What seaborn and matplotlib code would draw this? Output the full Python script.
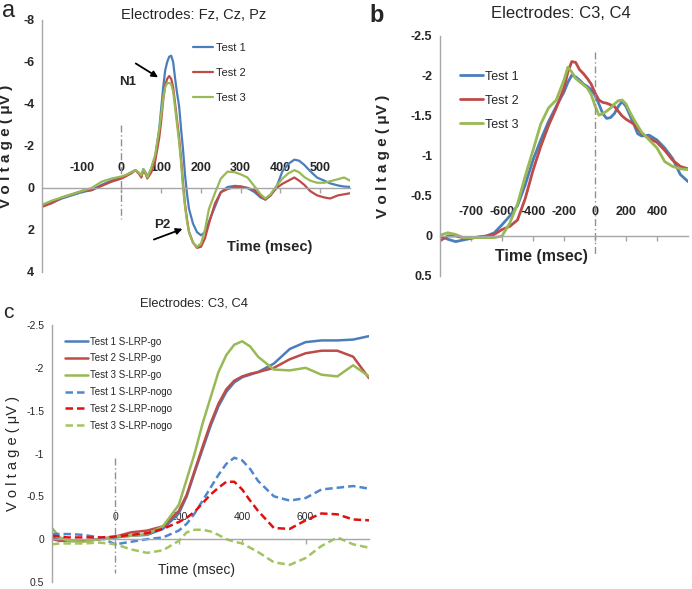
import numpy as np
import pandas as pd
import matplotlib
matplotlib.use('Agg')
import matplotlib.pyplot as plt
import seaborn as sns

sns.set_style('white')
plt.rcParams['font.family'] = ['Liberation Sans', 'DejaVu Sans']
plt.rcParams['axes.unicode_minus'] = False

# ---------------- data ----------------
# panel a: Fz, Cz, Pz (time in ms, voltage in uV)
t_a = [-200, -175, -150, -125, -100, -75, -50, -25,
       0, 15, 25, 35, 45, 50, 55, 60, 65, 75,
       85, 95, 100, 105, 110, 115, 120, 125, 130, 135,
       140, 145, 150, 155, 160, 165, 170, 180, 190, 200,
       210, 220, 235, 250, 267, 285, 300, 317, 335, 350,
       362, 375, 390, 405, 420, 435, 447, 460, 475, 492,
       510, 525, 545, 560, 575]
a_test1 = [0.85, 0.7, 0.5, 0.35, 0.2, 0.1, -0.15, -0.35,
           -0.5, -0.65, -0.75, -0.85, -0.7, -0.55, -0.9, -0.75, -0.55, -0.9,
           -1.5, -2.8, -3.8, -4.8, -5.6, -6.0, -6.25, -6.3, -6.0, -5.2,
           -4.5, -3.9, -2.8, -1.8, -0.6, 0.3, 1.0, 1.7, 2.1, 2.25,
           2.1, 1.6, 0.9, 0.2, -0.05, -0.1, -0.08, 0.0, 0.2, 0.45,
           0.55, 0.35, -0.05, -0.8, -1.15, -1.35, -1.3, -1.1, -0.8, -0.5,
           -0.35, -0.22, -0.12, -0.07, -0.05]
a_test2 = [0.9, 0.72, 0.45, 0.3, 0.15, 0.1, -0.1, -0.3,
           -0.45, -0.6, -0.7, -0.85, -0.65, -0.5, -0.85, -0.7, -0.45, -0.75,
           -1.3, -2.4, -3.2, -4.2, -4.9, -5.2, -5.33, -5.2, -4.8, -4.0,
           -3.2, -2.4, -1.4, -0.2, 0.8, 1.5, 2.1, 2.6, 2.85, 2.8,
           2.4, 1.7, 0.75, 0.2, 0.05, -0.05, -0.05, 0.0, 0.1, 0.4,
           0.55, 0.35, 0.0, -0.2, -0.35, -0.5, -0.35, -0.15, 0.15, 0.35,
           0.45, 0.5, 0.35, 0.3, 0.25]
a_test3 = [0.8, 0.6, 0.45, 0.3, 0.15, 0.0, -0.3, -0.45,
           -0.55, -0.65, -0.75, -0.85, -0.7, -0.6, -0.9, -0.75, -0.5, -0.95,
           -1.6, -2.8, -3.5, -4.3, -4.8, -5.0, -5.0, -4.95, -4.6, -3.8,
           -3.0, -2.2, -1.2, 0.0, 0.9, 1.6, 2.1, 2.6, 2.8, 2.65,
           2.0, 1.0, 0.25, -0.45, -0.78, -0.75, -0.65, -0.5, -0.07, 0.3,
           0.5, 0.3, -0.1, -0.45, -0.7, -0.85, -0.75, -0.52, -0.35, -0.25,
           -0.25, -0.32, -0.42, -0.5, -0.35]

# panel b: C3, C4 (response locked)
t_b = [-1000, -950, -900, -850, -800, -750, -700, -650, -600, -550,
       -500, -450, -400, -350, -300, -250, -200, -175, -150, -125,
       -100, -75, -50, -25, 0, 25, 50, 75, 100, 125,
       150, 175, 200, 225, 250, 275, 300, 350, 400, 450,
       500, 550, 600]
b_test1 = [0.0, 0.04, 0.07, 0.05, 0.03, 0.01, 0.0, -0.04, -0.14, -0.25,
           -0.38, -0.64, -0.95, -1.2, -1.43, -1.62, -1.8, -1.92, -2.01, -1.99,
           -1.95, -1.9, -1.87, -1.83, -1.76, -1.65, -1.53, -1.47, -1.48, -1.53,
           -1.62, -1.68, -1.62, -1.51, -1.4, -1.28, -1.25, -1.26, -1.2, -1.1,
           -0.97, -0.77, -0.68]
b_test2 = [0.06, 0.0, 0.0, 0.02, 0.02, 0.02, 0.0, -0.02, -0.08, -0.12,
           -0.2, -0.47, -0.82, -1.12, -1.38, -1.6, -1.85, -2.05, -2.18, -2.17,
           -2.08, -2.03, -1.97, -1.9, -1.79, -1.7, -1.67, -1.66, -1.64, -1.62,
           -1.56, -1.5, -1.46, -1.43, -1.4, -1.34, -1.28, -1.22, -1.17, -1.07,
           -0.95, -0.87, -0.84]
b_test3 = [-0.01, -0.04, -0.02, 0.02, 0.02, 0.02, 0.02, 0.02, 0.0, -0.16,
           -0.4, -0.75, -1.07, -1.4, -1.6, -1.7, -1.95, -2.11, -2.05, -1.97,
           -1.93, -1.89, -1.85, -1.77, -1.63, -1.51, -1.53, -1.56, -1.6, -1.65,
           -1.69, -1.7, -1.65, -1.55, -1.46, -1.38, -1.3, -1.2, -1.1, -0.93,
           -0.87, -0.84, -0.83]
b_tick_pos = [-800, -600, -400, -200, 0, 200, 400]
b_tick_lab = ['-700', '-600', '-400', '-200', '0', '200', '400']

# panel c: S-LRP go / nogo
t_c = [-200, -175, -150, -100, -50, 0, 50, 100, 150, 200,
       225, 250, 275, 300, 325, 350, 375, 400, 425, 450,
       500, 550, 600, 650, 700, 750, 800]
c_go1 = [-0.02, 0.01, 0.02, 0.02, 0.0, -0.02, -0.04, -0.05, -0.12, -0.3,
         -0.5, -0.78, -1.05, -1.32, -1.55, -1.72, -1.83, -1.89, -1.92, -1.95,
         -2.05, -2.22, -2.3, -2.32, -2.32, -2.33, -2.37]
c_go2 = [0.0, 0.02, 0.02, 0.02, 0.0, -0.03, -0.08, -0.1, -0.15, -0.33,
         -0.52, -0.8, -1.08, -1.35, -1.58, -1.75, -1.85, -1.9, -1.93, -1.95,
         -2.0, -2.1, -2.17, -2.2, -2.2, -2.13, -1.88]
c_go3 = [-0.13, -0.02, 0.02, 0.03, 0.0, -0.03, -0.04, -0.06, -0.15, -0.4,
         -0.7, -1.0, -1.35, -1.65, -1.95, -2.15, -2.27, -2.31, -2.25, -2.13,
         -1.98, -1.97, -2.0, -1.92, -1.9, -2.03, -1.9]
c_nogo1 = [-0.06, -0.06, -0.06, -0.05, -0.02, 0.06, 0.03, 0.0, -0.02, -0.1,
           -0.18, -0.3, -0.45, -0.6, -0.75, -0.88, -0.95, -0.92, -0.82, -0.68,
           -0.5, -0.45, -0.48, -0.58, -0.6, -0.62, -0.59]
c_nogo2 = [-0.04, -0.03, -0.02, -0.02, -0.02, -0.03, -0.05, -0.07, -0.12, -0.2,
           -0.25, -0.32, -0.42, -0.52, -0.6, -0.67, -0.67, -0.58, -0.45, -0.33,
           -0.13, -0.12, -0.22, -0.3, -0.29, -0.23, -0.22]
c_nogo3 = [0.06, 0.05, 0.05, 0.05, 0.04, 0.06, 0.12, 0.16, 0.13, 0.02,
           -0.08, -0.11, -0.11, -0.09, -0.05, 0.0, 0.03, 0.05, 0.1, 0.15,
           0.27, 0.3, 0.22, 0.08, -0.02, 0.06, 0.1]

# onset markers (x, y from, y to)
onset_a = [0, -3.0, 1.5]
onset_b = [0, -2.3, 0.25]
onset_c = [0, -0.95, 0.4]

# component annotations (label, text x/y, arrow tail x/y, arrow head x/y)
n1_note = ['N1', 38, -5.05, 30, -6.0, 98, -5.2]
p2_note = ['P2', 122, 1.75, 75, 2.5, 160, 1.9]

BLUE, RED, GREEN = '#4A7EBB', '#BE4B48', '#98B954'
DBLUE, DRED, DGREEN = '#4F86D0', '#E01010', '#A2C55E'
AXC = '#A6A6A6'


def style_axis(ax, xlim, ylim, pad, tick_fs, bold):
    ax.set_xlim(*xlim)
    ax.set_ylim(*ylim)
    for s in ['bottom', 'right']:
        ax.spines[s].set_visible(False)
    ax.spines['top'].set_position(('data', 0))
    for s in ['top', 'left']:
        ax.spines[s].set_color(AXC)
        ax.spines[s].set_linewidth(1.0)
    ax.xaxis.set_ticks_position('top')
    ax.tick_params(axis='x', direction='in', length=3.5, color=AXC, pad=pad,
                   labelsize=tick_fs, width=1)
    ax.tick_params(axis='y', direction='out', length=3.5, color=AXC,
                   labelsize=tick_fs, width=1, pad=2)
    w = 'bold' if bold else 'normal'
    for lab in ax.get_xticklabels() + ax.get_yticklabels():
        lab.set_fontweight(w)
    ax.set_xlabel('')
    ax.set_ylabel('')


fig = plt.figure(figsize=(6.92, 5.89), dpi=100)

# ---------------- panel a ----------------
ax_a = fig.add_axes([42 / 692, 1 - 272 / 589, 308 / 692, 252 / 589])
for y, c, lab in [(a_test1, BLUE, 'Test 1'), (a_test2, RED, 'Test 2'), (a_test3, GREEN, 'Test 3')]:
    sns.lineplot(x=t_a, y=y, ax=ax_a, color=c, linewidth=1.6, label=lab)
ax_a.plot([onset_a[0], onset_a[0]], onset_a[1:], color='#909090', lw=1, ls=(0, (5, 2, 1, 2)))
ax_a.set_xticks([-100, 0, 100, 200, 300, 400, 500])
ax_a.set_yticks([-8, -6, -4, -2, 0, 2, 4])
style_axis(ax_a, (-200, 575), (4, -8), 10, 9, True)
ax_a.legend(loc='upper left', bbox_to_anchor=(0.49, 0.91), frameon=False, fontsize=8,
            handlelength=1.8, handletextpad=0.3, labelspacing=1.35, borderpad=0, borderaxespad=0)
ax_a.yaxis.set_label_coords(-0.095, 0.52)
ax_a.set_ylabel('V o l t a g e ( μV )', fontsize=11, fontweight='bold')
ax_a.text(0.74, 0.1, 'Time (msec)', transform=ax_a.transAxes, ha='center', va='center',
          fontsize=10.5, fontweight='bold')
for note in [n1_note, p2_note]:
    ax_a.annotate('', xy=(note[5], note[6]), xytext=(note[3], note[4]),
                  arrowprops=dict(arrowstyle='-|>', color='black', lw=1.3, mutation_scale=9))
    ax_a.text(note[1], note[2], note[0], ha='right', va='center', fontsize=9.5, fontweight='bold')

# ---------------- panel b ----------------
ax_b = fig.add_axes([440 / 692, 1 - 276 / 589, 248 / 692, 240 / 589])
for y, c, lab in [(b_test1, BLUE, 'Test 1'), (b_test2, RED, 'Test 2'), (b_test3, GREEN, 'Test 3')]:
    sns.lineplot(x=t_b, y=y, ax=ax_b, color=c, linewidth=2.0, label=lab)
ax_b.plot([onset_b[0], onset_b[0]], onset_b[1:], color='#909090', lw=1, ls=(0, (5, 2, 1, 2)))
ax_b.set_xticks(b_tick_pos)
ax_b.set_xticklabels(b_tick_lab)
ax_b.set_yticks([-2.5, -2, -1.5, -1, -0.5, 0, 0.5])
ax_b.set_yticklabels(['-2.5', '-2', '-1.5', '-1', '-0.5', '0', '0.5'])
style_axis(ax_b, (-1000, 600), (0.5, -2.5), 13, 9, True)
ax_b.legend(loc='upper left', bbox_to_anchor=(0.08, 0.855), frameon=False, fontsize=9,
            handlelength=1.85, handletextpad=0.15, labelspacing=0.95, borderpad=0, borderaxespad=0)
ax_b.yaxis.set_label_coords(-0.2, 0.5)
ax_b.set_ylabel('V o l t a g e ( μV )', fontsize=11, fontweight='bold')
ax_b.text(0.41, 0.08, 'Time (msec)', transform=ax_b.transAxes, ha='center', va='center',
          fontsize=11.5, fontweight='bold')

# ---------------- panel c ----------------
ax_c = fig.add_axes([52 / 692, 1 - 582 / 589, 317 / 692, 257 / 589])
solid = [(c_go1, BLUE, 'Test 1 S-LRP-go'), (c_go2, RED, 'Test 2 S-LRP-go'), (c_go3, GREEN, 'Test 3 S-LRP-go')]
dashed = [(c_nogo1, DBLUE, 'Test 1 S-LRP-nogo'), (c_nogo2, DRED, 'Test 2 S-LRP-nogo'),
          (c_nogo3, DGREEN, 'Test 3 S-LRP-nogo')]
for y, c, lab in solid:
    sns.lineplot(x=t_c, y=y, ax=ax_c, color=c, linewidth=1.8, label=lab)
for y, c, lab in dashed:
    sns.lineplot(x=t_c, y=y, ax=ax_c, color=c, linewidth=1.8, label=lab, linestyle=(0, (3, 1.6)))
ax_c.plot([onset_c[0], onset_c[0]], onset_c[1:], color='#909090', lw=1, ls=(0, (5, 2, 1, 2)))
ax_c.set_xticks([0, 200, 400, 600])
ax_c.set_yticks([-2.5, -2, -1.5, -1, -0.5, 0, 0.5])
ax_c.set_yticklabels(['-2.5', '-2', '-1.5', '-1', '-0.5', '0', '0.5'])
style_axis(ax_c, (-200, 800), (0.5, -2.5), 12, 7.5, False)
ax_c.legend(loc='upper left', bbox_to_anchor=(0.041, 0.955), frameon=False, fontsize=7,
            handlelength=2.4, handletextpad=0.2, labelspacing=0.7, borderpad=0, borderaxespad=0)
ax_c.yaxis.set_label_coords(-0.1, 0.51)
ax_c.set_ylabel('V o l t a g e ( μV )', fontsize=10.5)
ax_c.text(0.457, 0.047, 'Time (msec)', transform=ax_c.transAxes, ha='center', va='center',
          fontsize=10)

# ---------------- titles and panel letters ----------------
fig.text(194 / 692, 1 - 15 / 589, 'Electrodes: Fz, Cz, Pz', ha='center', va='center', fontsize=10.5)
fig.text(561 / 692, 1 - 14 / 589, 'Electrodes: C3, C4', ha='center', va='center', fontsize=12)
fig.text(194 / 692, 1 - 303 / 589, 'Electrodes: C3, C4', ha='center', va='center', fontsize=9.3)
fig.text(2 / 692, 1 - 17 / 589, 'a', ha='left', va='baseline', fontsize=17)
fig.text(369 / 692, 1 - 22 / 589, 'b', ha='left', va='baseline', fontsize=17, fontweight='bold')
fig.text(3 / 692, 1 - 318 / 589, 'c', ha='left', va='baseline', fontsize=15)

fig.savefig('out.png', dpi=100)
